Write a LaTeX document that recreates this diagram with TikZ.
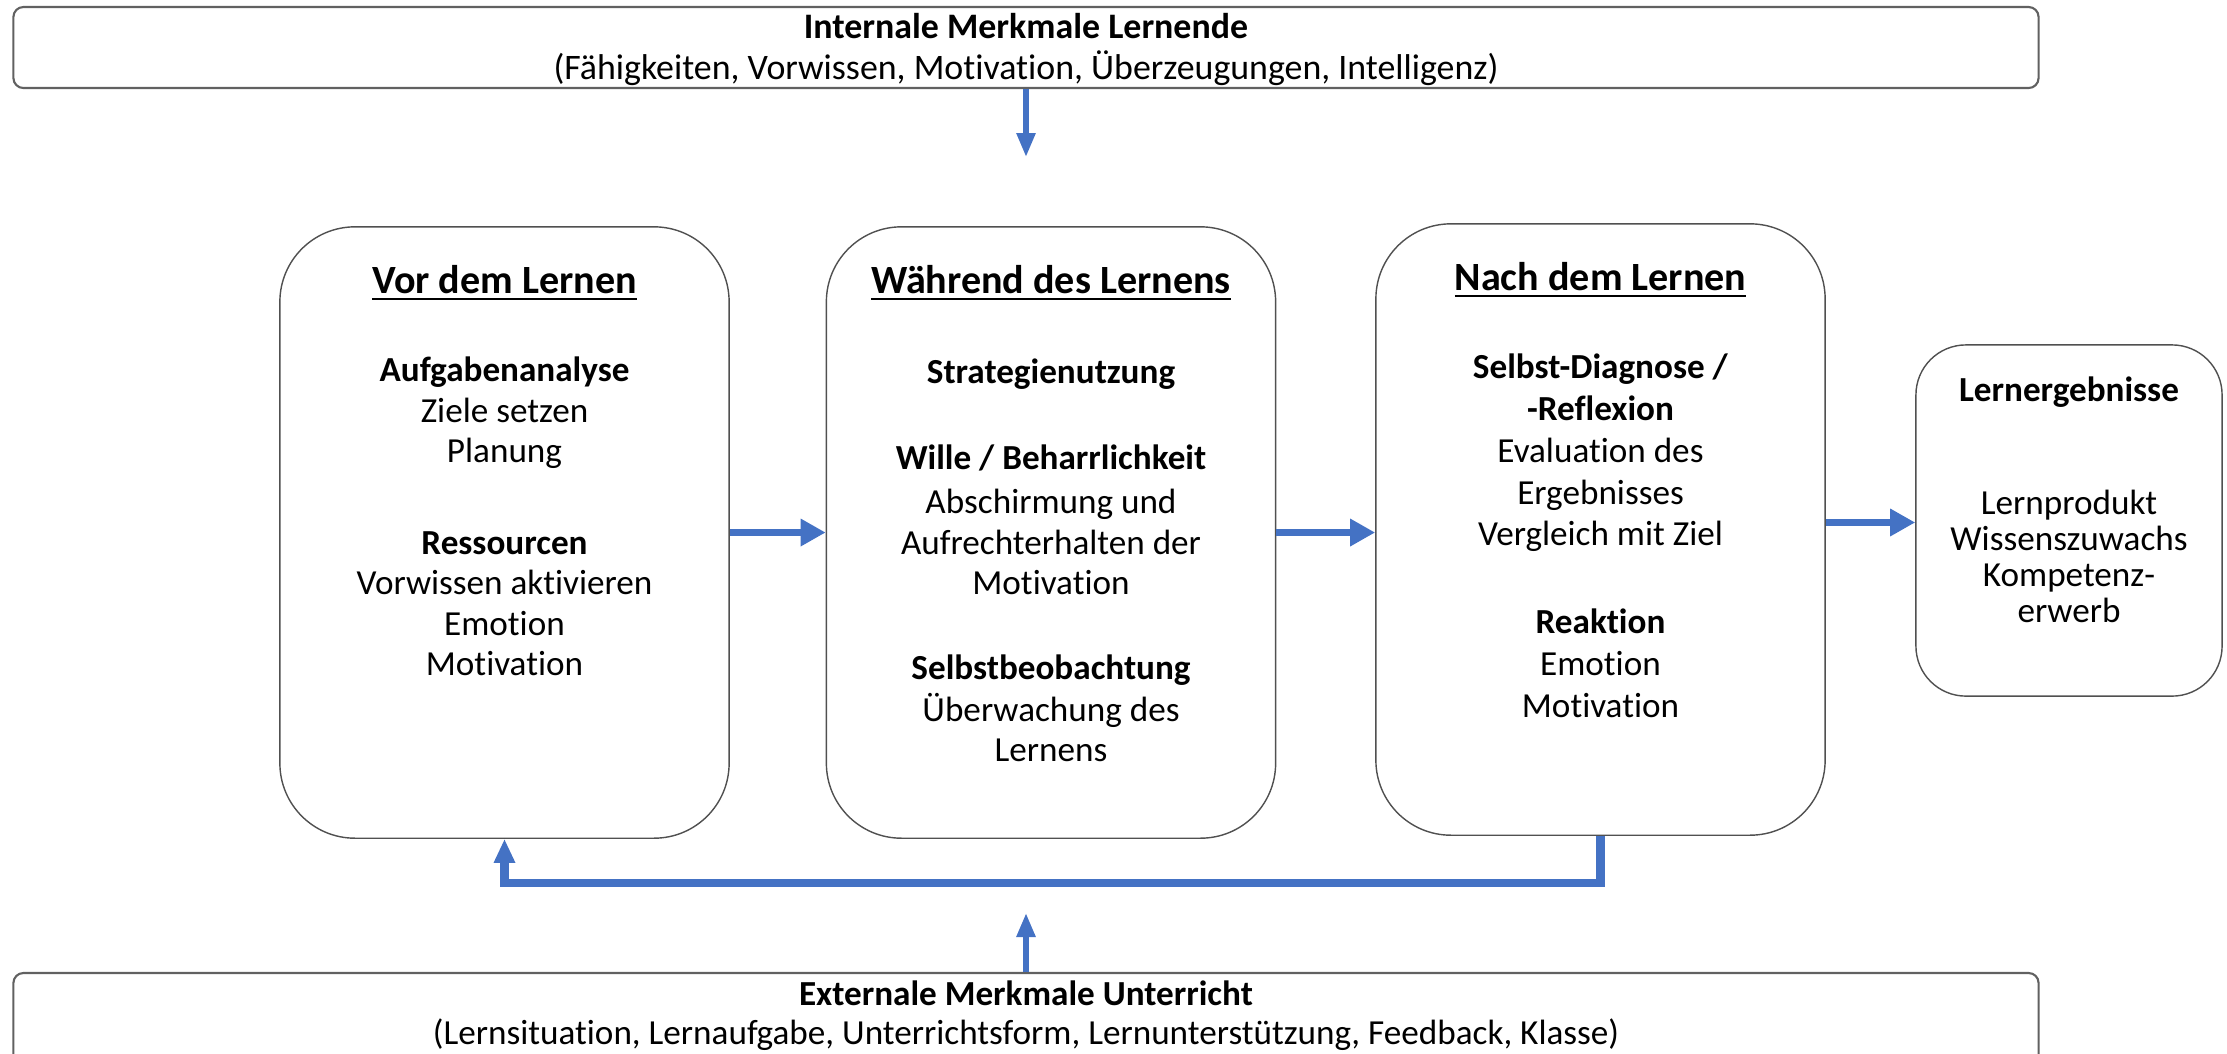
\documentclass[tikz,border=0pt]{standalone}
\usepackage{fontspec}
\setmainfont{Carlito}[Ligatures=NoCommon]
\usetikzlibrary{arrows.meta, positioning, calc}
\definecolor{flowBlue}{RGB}{68,114,196}
\definecolor{boxGray}{RGB}{80,80,80}
\tikzset{
    phaseBox/.style={rectangle, rounded corners=7.5mm, draw=boxGray, thin, fill=white, minimum width=4.49cm, minimum height=6.11cm},
    outcomeBox/.style={rectangle, rounded corners=5mm, draw=boxGray, thin, fill=white, minimum width=3.06cm, minimum height=3.51cm},
    frameBox/.style={rectangle, rounded corners=1mm, draw=boxGray!90, line width=0.6pt, fill=white, minimum width=20.24cm},
    boxText/.style={align=center, inner sep=0pt, anchor=north, font=\fontsize{10}{11.5}\selectfont},
    flowArrow/.style={-{Triangle[length=2.5mm, width=2.6mm]}, line width=2pt, draw=flowBlue},
    inArrow/.style={-{Triangle[length=2.4mm, width=1.8mm]}, line width=1.6pt, draw=flowBlue},
    feedLine/.style={-{Triangle[length=2.4mm, width=2mm]}, line width=2.4pt, draw=flowBlue}
}
\newcommand{\phaseHead}[1]{\underline{\textbf{\fontsize{11.4}{13}\selectfont #1}}}

\begin{document}
\begin{tikzpicture}[x=0.01cm, y=-0.01cm]

    % --- Canvas ---
    \useasboundingbox (0,0) rectangle (2227,1053);
    \clip (0,0) rectangle (2227,1053);

    % --- Frame boxes (internal / external) ---
    \node[frameBox, minimum height=0.81cm] (inner) at (1026,47.5) {};
    \node[frameBox, minimum height=1.20cm] (outer) at (1026,1033) {};

    \node[boxText, font=\fontsize{10.2}{11.6}\selectfont] (innerText) at ($(inner.north)+(0,7)$) {
        \textbf{Internale Merkmale Lernende}\\
        (Fähigkeiten, Vorwissen, Motivation, Überzeugungen, Intelligenz)
    };
    \node[boxText, font=\fontsize{10}{11}\selectfont] (outerText) at ($(outer.north)+(0,8)$) {
        \textbf{Externale Merkmale Unterricht}\\
        (Lernsituation, Lernaufgabe, Unterrichtsform, Lernunterstützung, Feedback, Klasse)
    };

    % --- Phase boxes ---
    \node[phaseBox] (before) at (504.5,532.5) {};
    \node[phaseBox] (during) at (1051,532.5) {};
    \node[phaseBox] (after) at (1600.5,529.5) {};
    \node[outcomeBox] (result) at (2069,520.5) {};

    % --- Phase texts ---
    \node[boxText] (beforeText) at ($(before.north)+(0,39)$) {
        \phaseHead{Vor dem Lernen}\\[13.5pt]
        \textbf{Aufgabenanalyse}\\
        Ziele setzen\\
        Planung\\[14.5pt]
        \textbf{Ressourcen}\\
        Vorwissen aktivieren\\
        Emotion\\
        Motivation
    };
    \node[boxText] (duringText) at ($(during.north)+(0,39)$) {
        \phaseHead{Während des Lernens}\\[14pt]
        \textbf{Strategienutzung}\\[13pt]
        \textbf{Wille / Beharrlichkeit}\\[1pt]
        Abschirmung und\\
        Aufrechterhalten der\\
        Motivation\\[12.5pt]
        \textbf{Selbstbeobachtung}\\[0.5pt]
        Überwachung des\\
        Lernens
    };
    \node[boxText, font=\fontsize{10}{11.9}\selectfont] (afterText) at ($(after.north)+(0,39)$) {
        \phaseHead{Nach dem Lernen}\\[13pt]
        \textbf{Selbst-Diagnose /}\\
        \textbf{-Reflexion}\\
        Evaluation des\\
        Ergebnisses\\
        Vergleich mit Ziel\\[13pt]
        \textbf{Reaktion}\\
        Emotion\\
        Motivation
    };
    \node[boxText, font=\fontsize{10}{10.2}\selectfont] (resultText) at ($(result.north)+(0,32)$) {
        \textbf{Lernergebnisse}\\[22pt]
        Lernprodukt\\
        Wissenszuwachs\\
        Kompetenz-\\
        erwerb
    };

    % --- Arrows ---
    \coordinate (innerTip) at (1026,157);
    \coordinate (outerTip) at (1026,913);
    \draw[inArrow] (inner.south) -- (innerTip);
    \draw[inArrow] (outer.north) -- (outerTip);

    \draw[flowArrow] (before.east) -- (during.west);
    \draw[flowArrow] (during.east) -- (during.east -| after.west);
    \draw[flowArrow] ([yshift=2pt]after.east) -- ([yshift=2pt]after.east -| result.west);

    % --- Feedback loop ---
    \draw[feedLine] (after.south) -- ++(0,47) -| (before.south);

\end{tikzpicture}
\end{document}
